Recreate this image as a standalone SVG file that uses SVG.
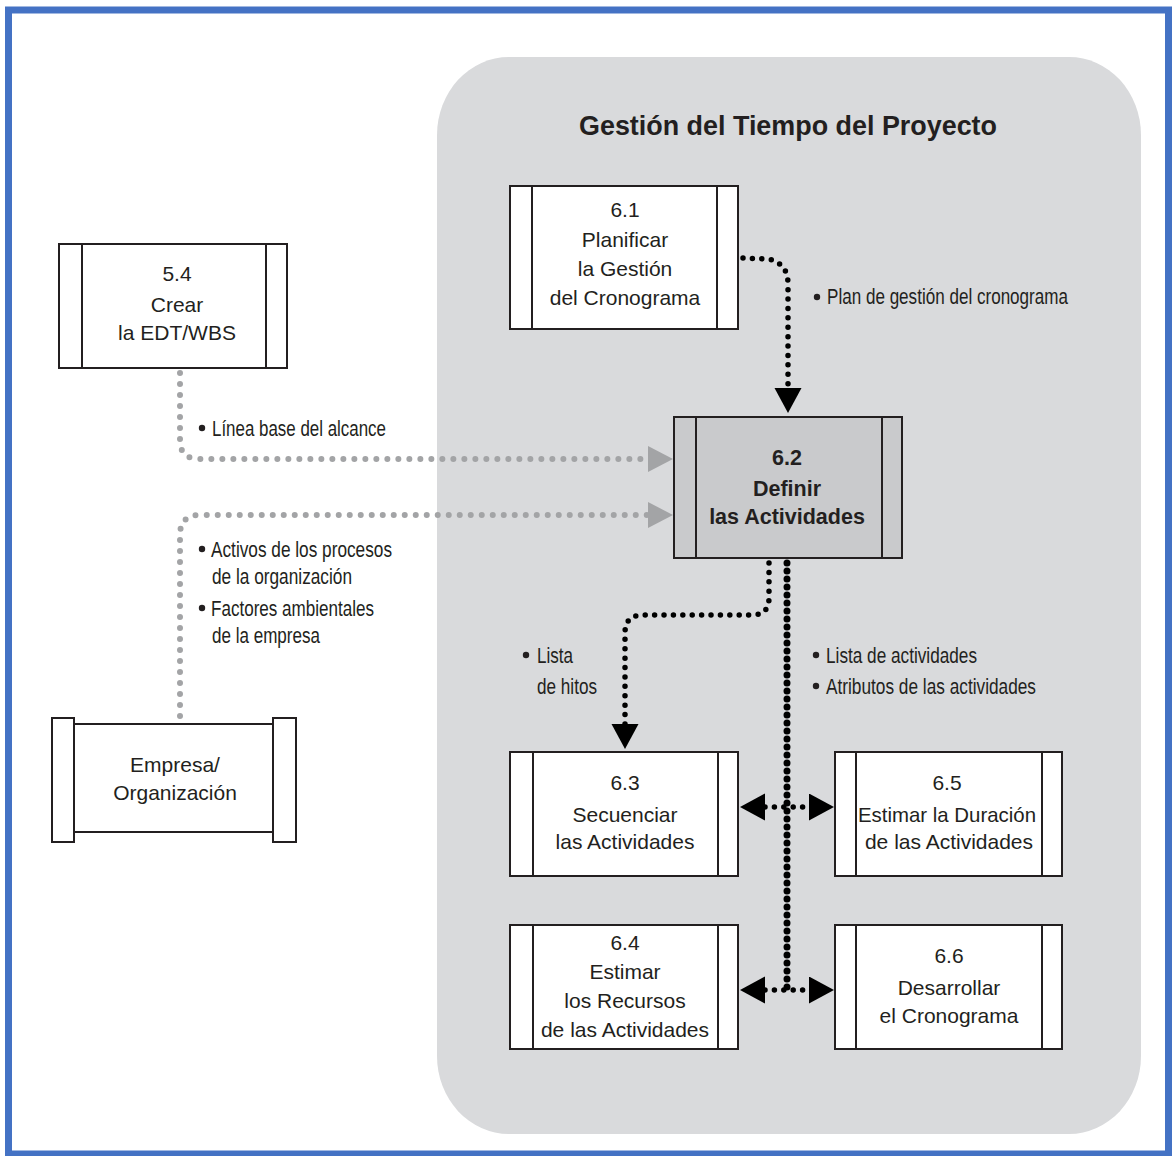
<svg xmlns="http://www.w3.org/2000/svg" width="1173" height="1156" viewBox="0 0 1173 1156">
  <defs>
    <style>
      .box { fill: #ffffff; stroke: #231f20; stroke-width: 2; }
      .box-hl { fill: #c9cacc; stroke: #231f20; stroke-width: 2; }
      .bar { stroke: #231f20; stroke-width: 2; }
      .ntext { font-family: "Liberation Sans", Arial, sans-serif; font-size: 21px; fill: #231f20; text-anchor: middle; }
      .ntext-b { font-family: "Liberation Sans", Arial, sans-serif; font-size: 21.5px; font-weight: bold; fill: #231f20; text-anchor: middle; }
      .title { font-family: "Liberation Sans", Arial, sans-serif; font-size: 27px; font-weight: bold; fill: #231f20; }
      .label { font-family: "Liberation Sans", Arial, sans-serif; font-size: 22px; fill: #231f20; }
      .dot-k { fill: none; stroke: #000000; stroke-width: 5.5; stroke-linecap: round; stroke-dasharray: 0 9.4; }
      .dot-k-heavy { fill: none; stroke: #000000; stroke-width: 7; stroke-linecap: round; stroke-dasharray: 0 8; }
      .dot-g { fill: none; stroke: #a3a4a6; stroke-width: 6; stroke-linecap: round; stroke-dasharray: 0 11; }
    </style>
    <marker id="arrow-k" markerUnits="userSpaceOnUse" markerWidth="26" markerHeight="28" refX="0" refY="13.5" orient="auto-start-reverse">
      <path d="M0,0 L25,13.5 L0,27 Z" fill="#000000"/>
    </marker>
    <marker id="arrow-g" markerUnits="userSpaceOnUse" markerWidth="26" markerHeight="27" refX="0" refY="13" orient="auto">
      <path d="M0,0 L25,13 L0,26 Z" fill="#a3a4a6"/>
    </marker>
  </defs>

  <!-- page frame -->
  <rect x="0" y="0" width="1173" height="1156" fill="#ffffff"/>
  <rect x="8.5" y="10" width="1160" height="1144" fill="none" stroke="#4472c4" stroke-width="7"/>

  <!-- knowledge area panel -->
  <g id="panel">
    <rect x="437" y="57" width="704" height="1077" rx="72" ry="78" fill="#d9dadc"/>
    <text class="title" x="788" y="135" text-anchor="middle" textLength="418" lengthAdjust="spacingAndGlyphs">Gestión del Tiempo del Proyecto</text>
  </g>

  <!-- connectors -->
  <g id="connectors">
    <path class="dot-g" d="M180,373 L180,440 Q180,459 199,459 L648,459" marker-end="url(#arrow-g)"/>
    <path class="dot-g" d="M180,716 L180,535 Q180,515 200,515 L648,515" marker-end="url(#arrow-g)"/>
    <path class="dot-k" d="M743,258 L768,259 Q788,263 788,284 L788,388" marker-end="url(#arrow-k)"/>
    <path class="dot-k" d="M769,563 L769,598 Q769,615 752,615 L643,615 Q625,615 625,633 L625,724" marker-end="url(#arrow-k)"/>
    <path class="dot-k-heavy" d="M787,563 L787,990"/>
    <path class="dot-k" d="M765,807 L809,807" marker-start="url(#arrow-k)" marker-end="url(#arrow-k)"/>
    <path class="dot-k" d="M765,990 L809,990" marker-start="url(#arrow-k)" marker-end="url(#arrow-k)"/>

    <!-- connector labels -->
    <circle cx="817" cy="297" r="3.2" fill="#231f20"/>
    <text class="label" x="827" y="304" textLength="241" lengthAdjust="spacingAndGlyphs">Plan de gestión del cronograma</text>

    <circle cx="202" cy="428" r="3.2" fill="#231f20"/>
    <text class="label" x="212" y="436" textLength="174" lengthAdjust="spacingAndGlyphs">Línea base del alcance</text>

    <circle cx="202" cy="549" r="3.2" fill="#231f20"/>
    <text class="label" x="211" y="557" textLength="181" lengthAdjust="spacingAndGlyphs">Activos de los procesos</text>
    <text class="label" x="212" y="584" textLength="140" lengthAdjust="spacingAndGlyphs">de la organización</text>
    <circle cx="202" cy="608" r="3.2" fill="#231f20"/>
    <text class="label" x="211" y="616" textLength="163" lengthAdjust="spacingAndGlyphs">Factores ambientales</text>
    <text class="label" x="212" y="643" textLength="108" lengthAdjust="spacingAndGlyphs">de la empresa</text>

    <circle cx="526" cy="655" r="3.2" fill="#231f20"/>
    <text class="label" x="537" y="663" textLength="36" lengthAdjust="spacingAndGlyphs">Lista</text>
    <text class="label" x="537" y="694" textLength="60" lengthAdjust="spacingAndGlyphs">de hitos</text>

    <circle cx="816" cy="655" r="3.2" fill="#231f20"/>
    <text class="label" x="826" y="663" textLength="151" lengthAdjust="spacingAndGlyphs">Lista de actividades</text>
    <circle cx="816" cy="686" r="3.2" fill="#231f20"/>
    <text class="label" x="826" y="694" textLength="210" lengthAdjust="spacingAndGlyphs">Atributos de las actividades</text>
  </g>

  <!-- 5.4 -->
  <g id="node-5-4">
    <rect class="box" x="59" y="244" width="228" height="124"/>
    <line class="bar" x1="82" y1="244" x2="82" y2="368"/>
    <line class="bar" x1="266" y1="244" x2="266" y2="368"/>
    <text class="ntext" x="177" y="281">5.4</text>
    <text class="ntext" x="177" y="312">Crear</text>
    <text class="ntext" x="177" y="340">la EDT/WBS</text>
  </g>

  <!-- Empresa / Organización -->
  <g id="node-org">
    <rect class="box" x="74" y="724" width="199" height="108"/>
    <rect class="box" x="52" y="718" width="22" height="124"/>
    <rect class="box" x="273" y="718" width="23" height="124"/>
    <text class="ntext" x="175" y="772">Empresa/</text>
    <text class="ntext" x="175" y="800">Organización</text>
  </g>

  <!-- 6.1 -->
  <g id="node-6-1">
    <rect class="box" x="510" y="186" width="228" height="143"/>
    <line class="bar" x1="532" y1="186" x2="532" y2="329"/>
    <line class="bar" x1="717" y1="186" x2="717" y2="329"/>
    <text class="ntext" x="625" y="217">6.1</text>
    <text class="ntext" x="625" y="247">Planificar</text>
    <text class="ntext" x="625" y="276">la Gestión</text>
    <text class="ntext" x="625" y="305">del Cronograma</text>
  </g>

  <!-- 6.2 -->
  <g id="node-6-2">
    <rect class="box-hl" x="674" y="417" width="228" height="141"/>
    <line class="bar" x1="696" y1="417" x2="696" y2="558"/>
    <line class="bar" x1="882" y1="417" x2="882" y2="558"/>
    <text class="ntext-b" x="787" y="465">6.2</text>
    <text class="ntext-b" x="787" y="496">Definir</text>
    <text class="ntext-b" x="787" y="524">las Actividades</text>
  </g>

  <!-- 6.3 -->
  <g id="node-6-3">
    <rect class="box" x="510" y="752" width="228" height="124"/>
    <line class="bar" x1="533" y1="752" x2="533" y2="876"/>
    <line class="bar" x1="718" y1="752" x2="718" y2="876"/>
    <text class="ntext" x="625" y="790">6.3</text>
    <text class="ntext" x="625" y="822">Secuenciar</text>
    <text class="ntext" x="625" y="849">las Actividades</text>
  </g>

  <!-- 6.4 -->
  <g id="node-6-4">
    <rect class="box" x="510" y="925" width="228" height="124"/>
    <line class="bar" x1="533" y1="925" x2="533" y2="1049"/>
    <line class="bar" x1="718" y1="925" x2="718" y2="1049"/>
    <text class="ntext" x="625" y="950">6.4</text>
    <text class="ntext" x="625" y="979">Estimar</text>
    <text class="ntext" x="625" y="1008">los Recursos</text>
    <text class="ntext" x="625" y="1037">de las Actividades</text>
  </g>

  <!-- 6.5 -->
  <g id="node-6-5">
    <rect class="box" x="835" y="752" width="227" height="124"/>
    <line class="bar" x1="856" y1="752" x2="856" y2="876"/>
    <line class="bar" x1="1042" y1="752" x2="1042" y2="876"/>
    <text class="ntext" x="947" y="790">6.5</text>
    <text class="ntext" x="947" y="822" textLength="178" lengthAdjust="spacingAndGlyphs">Estimar la Duración</text>
    <text class="ntext" x="949" y="849">de las Actividades</text>
  </g>

  <!-- 6.6 -->
  <g id="node-6-6">
    <rect class="box" x="835" y="925" width="227" height="124"/>
    <line class="bar" x1="856" y1="925" x2="856" y2="1049"/>
    <line class="bar" x1="1042" y1="925" x2="1042" y2="1049"/>
    <text class="ntext" x="949" y="963">6.6</text>
    <text class="ntext" x="949" y="995">Desarrollar</text>
    <text class="ntext" x="949" y="1023">el Cronograma</text>
  </g>
</svg>
